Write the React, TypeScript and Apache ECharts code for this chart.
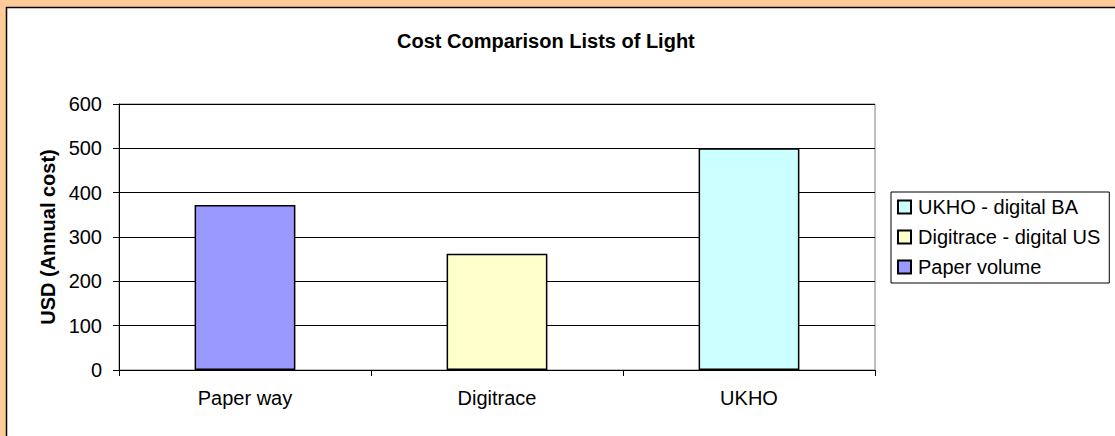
import React, { useEffect, useRef } from "react";
import * as echarts from "echarts";

const categories = ["Paper way", "Digitrace", "UKHO"];
const seriesNames = ["Paper volume", "Digitrace - digital US", "UKHO - digital BA"];
const paperVolume: (number | string)[] = [372, "-", "-"];
const digitraceUS: (number | string)[] = ["-", 262, "-"];
const ukhoBA: (number | string)[] = ["-", "-", 500];
const seriesColors = ["#9999FF", "#FFFFCC", "#CCFFFF"];
const legendOrder = ["UKHO - digital BA", "Digitrace - digital US", "Paper volume"];

const FONT = "'Liberation Sans', Arial, sans-serif";

export default function App() {
  const ref = useRef<HTMLDivElement>(null);
  useEffect(() => {
    if (!ref.current) return;
    const chart = echarts.init(ref.current, undefined, { renderer: "svg" });
    const values = [paperVolume, digitraceUS, ukhoBA];
    chart.setOption({
      animation: false,
      backgroundColor: "#FFCC99",
      textStyle: { fontFamily: FONT },
      graphic: [
        {
          type: "rect",
          z: -10,
          silent: true,
          shape: { x: 6.5, y: 7.5, width: 1200, height: 500 },
          style: { fill: "#FFFFFF", stroke: "#000000", lineWidth: 1.5 },
        },
      ],
      title: {
        text: "Cost Comparison Lists of Light",
        left: 397,
        top: 31,
        padding: 0,
        textStyle: { fontFamily: FONT, fontSize: 20, fontWeight: "bold", color: "#000" },
      },
      legend: {
        orient: "vertical",
        left: 891,
        top: 192,
        data: legendOrder,
        icon: "rect",
        itemWidth: 13,
        itemHeight: 13,
        itemGap: 10,
        padding: [5, 9, 6, 6],
        backgroundColor: "#FFFFFF",
        borderColor: "#000000",
        borderWidth: 1,
        textStyle: { fontFamily: FONT, fontSize: 20, color: "#000", padding: [0, 0, 0, 2] },
      },
      grid: {
        left: 119,
        top: 104,
        right: 240,
        bottom: 66,
        show: true,
        backgroundColor: "#FFFFFF",
        borderColor: "#808080",
        borderWidth: 1,
      },
      xAxis: {
        type: "category",
        data: categories,
        boundaryGap: true,
        axisLine: { show: true, lineStyle: { color: "#000", width: 1 } },
        axisTick: { show: true, interval: 0, length: 6, lineStyle: { color: "#000" } },
        axisLabel: { fontFamily: FONT, fontSize: 20, color: "#000", margin: 18, interval: 0 },
        splitLine: { show: false },
      },
      yAxis: {
        type: "value",
        min: 0,
        max: 600,
        interval: 100,
        name: "USD (Annual cost)",
        nameLocation: "middle",
        nameGap: 58,
        nameTextStyle: { fontFamily: FONT, fontSize: 20, fontWeight: "bold", color: "#000" },
        axisLine: { show: true, lineStyle: { color: "#000", width: 1 } },
        axisTick: { show: true, length: 6, lineStyle: { color: "#000" } },
        axisLabel: { fontFamily: FONT, fontSize: 20, color: "#000", margin: 17 },
        splitLine: { show: true, lineStyle: { color: "#000", width: 1 } },
      },
      series: seriesNames.map((name, i) => ({
        name,
        type: "bar",
        stack: "total",
        barWidth: "40%",
        data: values[i],
        itemStyle: { color: seriesColors[i], borderColor: "#000", borderWidth: 1.5 },
      })),
    });
    return () => chart.dispose();
  }, []);
  return (
    <div
      ref={ref}
      style={{ position: "fixed", left: 0, top: 0, width: 1115, height: 436 }}
    />
  );
}
